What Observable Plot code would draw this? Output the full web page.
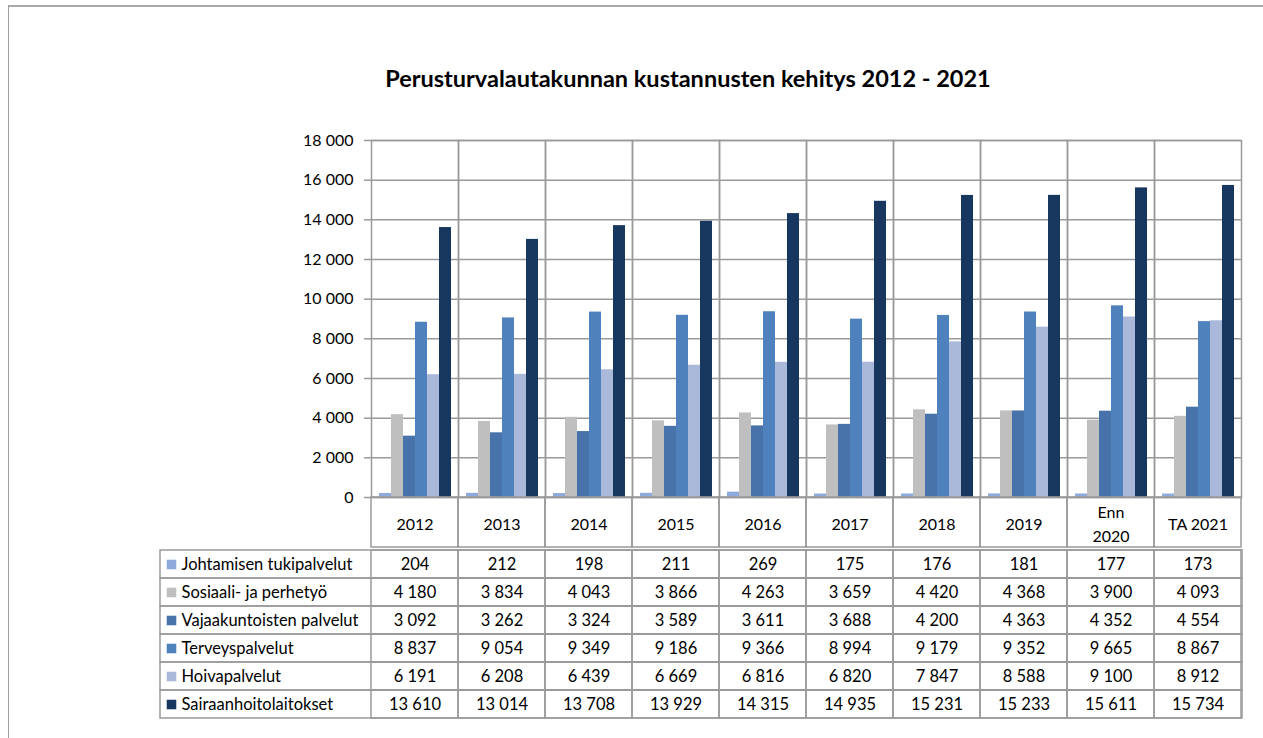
<!DOCTYPE html>
<html>
<head>
<meta charset="utf-8">
<script src="https://cdn.jsdelivr.net/npm/d3@7"></script>
<script src="https://cdn.jsdelivr.net/npm/@observablehq/plot@0.6"></script>
<style>
  html, body { margin: 0; padding: 0; background: white; }
  #wrap { position: relative; width: 1263px; height: 738px; overflow: hidden; font-family: Lato, "Open Sans", sans-serif; }
  #border { position: absolute; left: 8px; top: 5px; width: 1400px; height: 900px; border-top: 2px solid #a9a9a9; border-left: 1px solid #a0a0a0; }
  #title { position: absolute; left: 0; width: 1376px; top: 64px; text-align: center; font-weight: bold; font-size: 23.5px; color: #000; z-index: 2; }
  .layer { position: absolute; left: 0; }
</style>
</head>
<body>
<div id="wrap">
  <div id="border"></div>
  <div id="title">Perusturvalautakunnan kustannusten kehitys 2012 - 2021</div>
  <div id="chart" class="layer" style="top:0"></div>
  <div id="header" class="layer" style="top:496px"></div>
  <div id="table" class="layer" style="top:547px"></div>
</div>
<script>
const years = ["2012", "2013", "2014", "2015", "2016", "2017", "2018", "2019", "Enn\n2020", "TA 2021"];
const seriesNames = ["Johtamisen tukipalvelut", "Sosiaali- ja perhetyö", "Vajaakuntoisten palvelut", "Terveyspalvelut", "Hoivapalvelut", "Sairaanhoitolaitokset"];
const seriesColors = ["#8EA9DB", "#BFBFBF", "#4773AA", "#4F81BD", "#AAB9D9", "#17375E"];

const johtamisen = [204, 212, 198, 211, 269, 175, 176, 181, 177, 173];
const sosiaali = [4180, 3834, 4043, 3866, 4263, 3659, 4420, 4368, 3900, 4093];
const vajaakuntoisten = [3092, 3262, 3324, 3589, 3611, 3688, 4200, 4363, 4352, 4554];
const terveys = [8837, 9054, 9349, 9186, 9366, 8994, 9179, 9352, 9665, 8867];
const hoiva = [6191, 6208, 6439, 6669, 6816, 6820, 7847, 8588, 9100, 8912];
const sairaanhoito = [13610, 13014, 13708, 13929, 14315, 14935, 15231, 15233, 15611, 15734];

const seriesValues = [johtamisen, sosiaali, vajaakuntoisten, terveys, hoiva, sairaanhoito];
const data = [];
seriesNames.forEach((s, i) => years.forEach((y, j) => data.push({series: s, year: y, value: seriesValues[i][j]})));

const fmt = v => d3.format(",")(v).replace(/,/g, " ");
const grid = "#9a9a9a";
const font = "Lato, 'Open Sans', sans-serif";

const chart = Plot.plot({
  width: 1263, height: 512,
  marginTop: 140, marginBottom: 15, marginLeft: 370, marginRight: 21,
  style: {background: "transparent", fontFamily: font, fontSize: "16px", color: "#000"},
  fx: {domain: years, padding: 0, axis: null},
  x: {domain: seriesNames, paddingInner: 0, paddingOuter: 0.62, axis: null},
  y: {domain: [0, 18000]},
  color: {domain: seriesNames, range: seriesColors},
  marks: [
    Plot.gridY({ticks: 9, stroke: grid, strokeOpacity: 1, strokeWidth: 1.5}),
    Plot.barY(data, {fx: "year", x: "series", y: "value", fill: "series", inset: 0}),
    Plot.frame({stroke: grid, strokeWidth: 1.5}),
    Plot.axisY({ticks: 9, tickFormat: fmt, tickSize: 7, tickPadding: 11, stroke: grid, strokeWidth: 1.5, label: null, fontSize: 16})
  ]
});
document.getElementById("chart").appendChild(chart);

const header = Plot.plot({
  width: 1263, height: 52,
  marginTop: 1, marginBottom: 1, marginLeft: 370, marginRight: 21,
  style: {background: "transparent", fontFamily: font, fontSize: "16px", color: "#000"},
  x: {domain: years, padding: 0, axis: null},
  marks: [
    Plot.cell(years, {x: d => d, stroke: grid, strokeWidth: 1.5, fill: "none"}),
    Plot.text(years, {x: d => d, text: d => d, lineHeight: 1.5, fontSize: 16, fill: "#000"})
  ]
});
document.getElementById("header").appendChild(header);

const table = Plot.plot({
  width: 1263, height: 173,
  marginTop: 1, marginBottom: 1, marginLeft: 160, marginRight: 21,
  style: {background: "transparent", fontFamily: font, fontSize: "16.5px", color: "#000"},
  x: {domain: years, range: [370, 1242], padding: 0, axis: null},
  y: {domain: seriesNames, padding: 0, axis: null},
  color: {domain: seriesNames, range: seriesColors},
  marks: [
    Plot.cell(seriesNames, {y: d => d, stroke: grid, strokeWidth: 1.5, fill: "none"}),
    Plot.cell(data, {x: "year", y: "series", stroke: grid, strokeWidth: 1.5, fill: "none"}),
    Plot.text(data, {x: "year", y: "series", text: d => fmt(d.value), fontSize: 16.5, fill: "#000"}),
    Plot.dot(seriesNames, {y: d => d, frameAnchor: "left", dx: 11, symbol: "square", r: 5.4, fill: d => d}),
    Plot.text(seriesNames, {y: d => d, text: d => d, frameAnchor: "left", dx: 21, textAnchor: "start", fontSize: 16.5, fill: "#000"})
  ]
});
document.getElementById("table").appendChild(table);
</script>
</body>
</html>
